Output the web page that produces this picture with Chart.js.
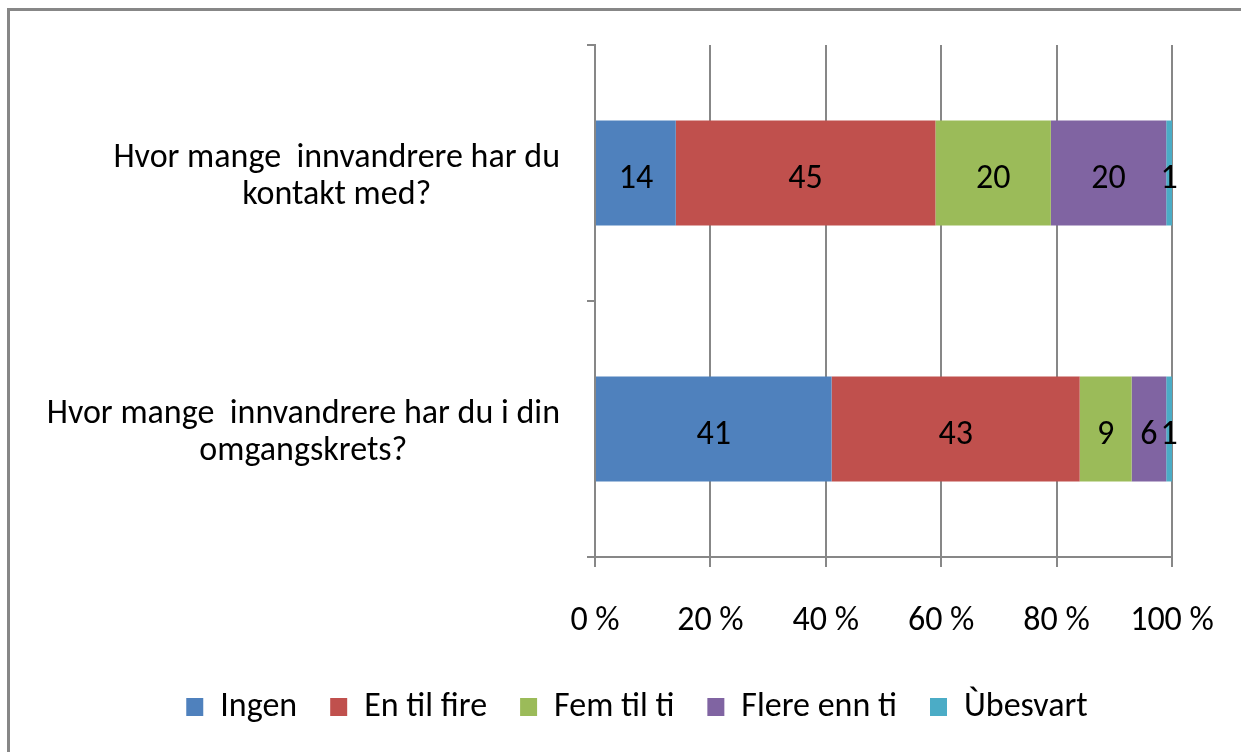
<!DOCTYPE html>
<html>
<head>
<meta charset="utf-8">
<script src="https://cdn.jsdelivr.net/npm/chart.js@4/dist/chart.umd.min.js"></script>
<style>
  html, body { margin: 0; padding: 0; background: #ffffff; }
  #wrap { position: relative; width: 1241px; height: 752px; }
  canvas { display: block; }
</style>
</head>
<body>
<div id="wrap"><canvas id="c" width="1241" height="752"></canvas></div>
<script>
// ---- Data ----
const categories = [
  ["Hvor mange  innvandrere har du", "kontakt med?"],
  ["Hvor mange  innvandrere har du i din", "omgangskrets?"]
];
const seriesNames = ["Ingen", "En til fire", "Fem til ti", "Flere enn ti", "Ùbesvart"];
const ingen      = [14, 41];
const enTilFire  = [45, 43];
const femTilTi   = [20, 9];
const flereEnnTi = [20, 6];
const ubesvart   = [1, 1];
const xTicks = [0, 20, 40, 60, 80, 100];

// ---- Styles ----
const colors = ["#4F81BD", "#C0504D", "#9BBB59", "#8064A2", "#4BACC6"];
const FONT = 'Carlito, "Liberation Sans Narrow", "Liberation Sans", sans-serif';
const FS = 34;
const GRID = "#878787";

const seriesValues = [ingen, enTilFire, femTilTi, flereEnnTi, ubesvart];

const frame = {
  id: 'frame',
  beforeDraw(chart) {
    const ctx = chart.ctx;
    ctx.save();
    ctx.fillStyle = GRID;
    ctx.fillRect(7, 8, 3, 752);
    ctx.fillRect(7, 8, 1241, 3);
    ctx.restore();
  }
};

const barLabels = {
  id: 'barLabels',
  afterDatasetsDraw(chart) {
    const ctx = chart.ctx;
    ctx.save();
    ctx.font = FS + 'px ' + FONT;
    ctx.fillStyle = '#000000';
    ctx.textAlign = 'center';
    ctx.textBaseline = 'middle';
    chart.data.datasets.forEach((ds, i) => {
      const meta = chart.getDatasetMeta(i);
      meta.data.forEach((bar, j) => {
        const p = bar.getProps(['x', 'y', 'base'], true);
        ctx.fillText(String(ds.data[j]), (p.x + p.base) / 2, p.y + 6);
      });
    });
    ctx.restore();
  }
};

const yLabels = {
  id: 'yLabels',
  afterDraw(chart) {
    const ctx = chart.ctx;
    const scale = chart.scales.y;
    const rightEdge = scale.right - 35;
    const lineH = 37;
    ctx.save();
    ctx.font = FS + 'px ' + FONT;
    ctx.fillStyle = '#000000';
    ctx.textAlign = 'center';
    ctx.textBaseline = 'middle';
    chart.data.labels.forEach((lines, i) => {
      const y = scale.getPixelForTick(i);
      const widest = Math.max(...lines.map(l => ctx.measureText(l).width));
      const cx = rightEdge - widest / 2;
      const y0 = y - (lines.length - 1) * lineH / 2;
      lines.forEach((l, k) => ctx.fillText(l, cx, y0 + k * lineH + 4));
    });
    ctx.restore();
  }
};

new Chart(document.getElementById('c'), {
  type: 'bar',
  data: {
    labels: categories,
    datasets: seriesNames.map((n, i) => ({
      label: n,
      data: seriesValues[i],
      backgroundColor: colors[i],
      borderWidth: 0,
      barPercentage: 0.5,
      categoryPercentage: 0.82
    }))
  },
  options: {
    indexAxis: 'y',
    responsive: false,
    animation: false,
    layout: { padding: { top: 45, right: 69, left: 102, bottom: 18 } },
    scales: {
      x: {
        stacked: true,
        min: 0, max: 100,
        afterBuildTicks(scale) { scale.ticks = xTicks.map(v => ({ value: v })); },
        afterFit(scale) { scale.height = 100; scale.paddingLeft = 0; scale.paddingRight = 0; },
        grid: { color: GRID, lineWidth: 2, tickLength: 10, drawTicks: true },
        border: { display: true, color: GRID, width: 2 },
        ticks: {
          padding: 31,
          color: '#000000',
          font: { family: FONT, size: FS, lineHeight: 1.4 },
          callback: v => v + ' %',
          maxRotation: 0
        }
      },
      y: {
        stacked: true,
        afterFit(scale) { scale.width = 493; },
        grid: { display: true, drawOnChartArea: false, drawTicks: true, tickLength: 8, color: GRID, lineWidth: 2, offset: true },
        border: { display: true, color: GRID, width: 2 },
        ticks: { display: false }
      }
    },
    plugins: {
      legend: {
        position: 'bottom',
        labels: {
          boxWidth: 17,
          boxHeight: 18,
          padding: 33,
          color: '#000000',
          font: { family: FONT, size: FS }
        }
      },
      tooltip: { enabled: false }
    }
  },
  plugins: [frame, barLabels, yLabels]
});
</script>
</body>
</html>
